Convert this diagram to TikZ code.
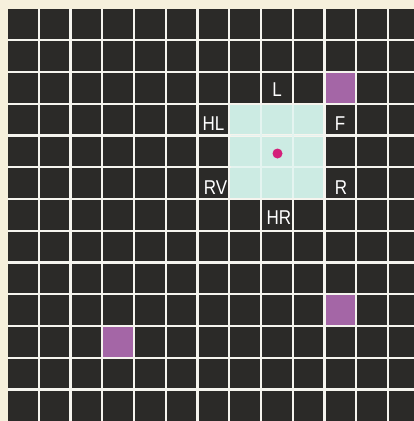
\documentclass[tikz,border=0pt]{standalone}
\usepackage{fontspec}
\setmainfont{Liberation Sans}
\newfontfamily\lblfont[FakeStretch=0.85]{Liberation Sans}
\definecolor{paper}{HTML}{F6F0DC}
\definecolor{cellc}{HTML}{2B2A28}
\definecolor{gridline}{HTML}{F5F4EE}
\definecolor{cyanc}{HTML}{CCEBE3}
\definecolor{cyanline}{HTML}{E4F4F0}
\definecolor{purp}{HTML}{A466A6}
\definecolor{dotc}{HTML}{D4207A}
\tikzset{
  lbl/.style={text=white, font=\lblfont\fontsize{20}{20}\selectfont, inner sep=0pt, anchor=center},
  gridl/.style={draw=gridline, line width=2.3pt},
  innerl/.style={draw=cyanline, line width=1.8pt}
}
\begin{document}
\begin{tikzpicture}[x=1pt,y=-1pt]
\fill[paper] (0,0) rectangle (414,421);
\useasboundingbox (0,0) rectangle (414,421);
\fill[cellc] (7.5,8.5) rectangle (414,421);
% light region
\fill[cyanc] ({7+31.75*7},{8.5+31.75*3}) rectangle ({7+31.75*10},{8.5+31.75*6});
% purple cells
\foreach \c/\r in {10/2,10/9,3/10}
  \fill[purp] ({7+31.75*\c},{8.5+31.75*\r}) rectangle +(31.75,31.75);
% grid lines
\foreach \k in {1,...,12} {
  \draw[gridl] ({7+31.75*\k},8.5) -- ({7+31.75*\k},421);
  \draw[gridl] (7.5,{8.5+31.75*\k}) -- (414,{8.5+31.75*\k});
}
% interior lines of light region
\foreach \k in {8,9}
  \draw[innerl] ({7+31.75*\k},{8.5+31.75*3+1.5}) -- ({7+31.75*\k},{8.5+31.75*6-1.5});
\foreach \k in {4,5}
  \draw[innerl] ({7+31.75*7+1.5},{8.5+31.75*\k}) -- ({7+31.75*10-1.5},{8.5+31.75*\k});
% dot
\node[circle, fill=dotc, minimum size=10pt, inner sep=0pt] (dot) at (277.5,153.5) {};
% labels
\node[lbl] (L)  at (277,89.5) {L};
\node[lbl] (HL) at (213.5,123.5) {HL};
\node[lbl] (F)  at (340,123.5) {F};
\node[lbl] (RV) at (215.5,188) {RV};
\node[lbl] (R)  at (341,188) {R};
\node[lbl] (HR) at (279,217.5) {HR};
\end{tikzpicture}
\end{document}
